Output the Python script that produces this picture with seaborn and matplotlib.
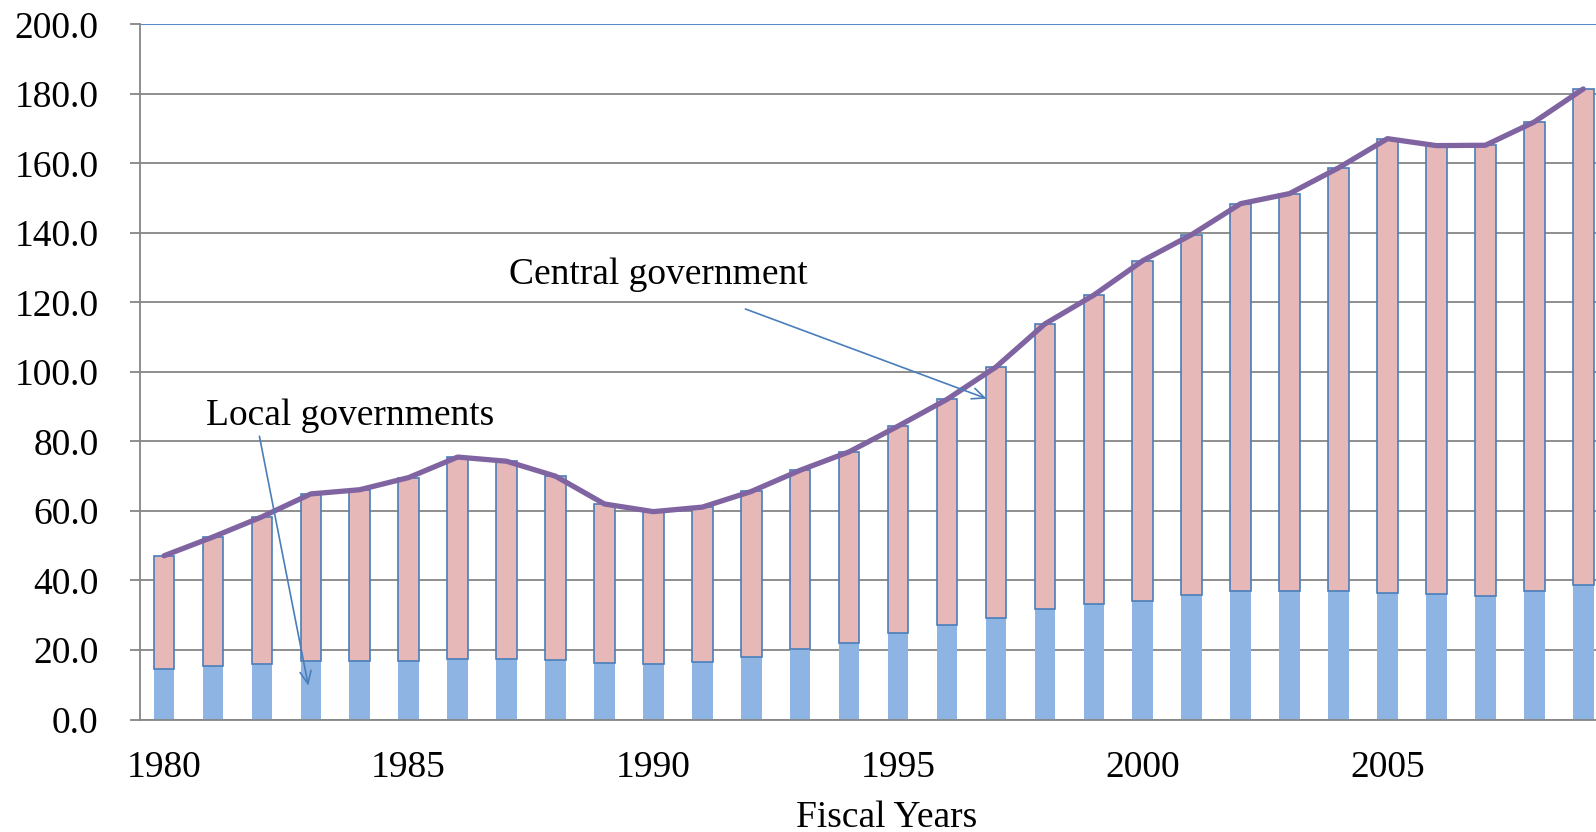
import numpy as np
import pandas as pd
import matplotlib
matplotlib.use("Agg")
import matplotlib.pyplot as plt
import seaborn as sns

years = list(range(1980, 2010))
local_gov = [14.5, 15.4, 16.0, 16.9, 16.9, 16.7, 17.3, 17.4, 17.1, 16.2,
             16.0, 16.4, 18.0, 20.2, 22.1, 24.8, 27.2, 29.1, 31.7, 33.2,
             34.2, 35.7, 36.9, 37.0, 37.1, 36.4, 36.1, 35.4, 36.9, 38.7]
central_gov = [32.6, 37.1, 42.3, 48.0, 49.2, 52.9, 58.2, 56.9, 52.9, 45.8,
               43.8, 44.7, 47.6, 51.5, 54.9, 59.6, 64.9, 72.3, 82.1, 88.9,
               97.8, 103.8, 111.5, 114.3, 121.6, 130.7, 129.0, 129.8, 135.0, 142.7]
tick_years = [1980, 1985, 1990, 1995, 2000, 2005]
y_ticks = [0, 20, 40, 60, 80, 100, 120, 140, 160, 180, 200]

sns.set_style("white")
plt.rcParams['font.family'] = ['Liberation Serif', 'DejaVu Serif']

df = pd.DataFrame({"year": [str(y) for y in years],
                   "local": local_gov, "central": central_gov})
df["total"] = df["local"] + df["central"]

W, H = 1596, 832
fig = plt.figure(figsize=(W / 100, H / 100), dpi=100)
left_px, right_px, top_px, bot_px = 139.5, 1607.7, 24.3, 719.5
ax = fig.add_axes([left_px / W, 1 - bot_px / H, (right_px - left_px) / W, (bot_px - top_px) / H])

grid_c = "#868686"
for v in y_ticks[:-1]:
    ax.axhline(v, color=grid_c, lw=1.3, zorder=0)
ax.axhline(200, color="#5B8BC6", lw=1.5, zorder=0)

bw = 0.42
sns.barplot(data=df, x="year", y="local", color="#8EB4E3", width=bw,
            saturation=1, edgecolor="none", ax=ax, zorder=2)
pos = np.arange(len(df))
ax.bar(pos, df["central"], bottom=df["local"], width=bw, color="#E6B9B8",
       edgecolor="#4A7EBB", linewidth=1.2, zorder=3)
sns.lineplot(x=pos, y=df["total"].values, color="#8064A2", lw=3.8, ax=ax,
             zorder=4, sort=False)

ax.set_xlim(-0.5, len(df) - 0.5)
ax.set_ylim(0, 200)
ax.set_yticks(y_ticks)
ax.set_yticklabels([f"{v:.1f}" for v in y_ticks])
tpos = [years.index(y) for y in tick_years]
ax.set_xticks(tpos)
ax.set_xticklabels([str(y) for y in tick_years])
ax.set_xticks(np.arange(-0.5, len(df), 1.0), minor=True)
ax.tick_params(axis="x", which="major", length=0, pad=22, labelsize=27, labelcolor="black")
ax.tick_params(axis="x", which="minor", length=7.5, width=1.3, color=grid_c, direction="out")
ax.tick_params(axis="y", which="major", length=7.5, width=1.3, color=grid_c, pad=22,
               labelsize=27, direction="out", left=True, labelcolor="black")

for s in ["top", "right"]:
    ax.spines[s].set_visible(False)
for s in ["left", "bottom"]:
    ax.spines[s].set_color(grid_c)
    ax.spines[s].set_linewidth(1.3)

ax.set_ylabel("")
ax.set_xlabel("Fiscal Years", fontsize=27, color="black")
ax.xaxis.set_label_coords(0.509, -0.141)
ax.xaxis.label.set_va("center")

arrow_c = "#4A7EBB"
ax.text(7.04, 128.0, "Central government", fontsize=27, ha="left", va="center",
        color="black", zorder=6)
ax.annotate("", xy=(16.81, 92.3), xytext=(11.88, 118.1),
            arrowprops=dict(arrowstyle="->,head_length=0.9,head_width=0.4", color=arrow_c,
                            lw=1.2, shrinkA=0, shrinkB=0), zorder=6)
ax.text(0.86, 87.4, "Local governments", fontsize=27, ha="left", va="center",
        color="black", zorder=6)
ax.annotate("", xy=(2.95, 9.7), xytext=(1.95, 81.5),
            arrowprops=dict(arrowstyle="->,head_length=0.9,head_width=0.4", color=arrow_c,
                            lw=1.2, shrinkA=0, shrinkB=0), zorder=6)

fig.savefig("out.png", dpi=100)
